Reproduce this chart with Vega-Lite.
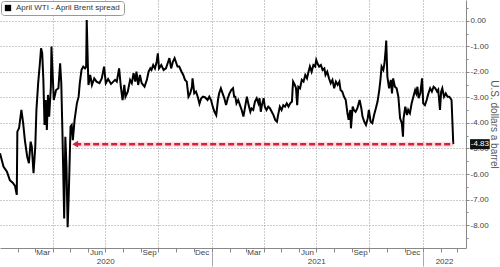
{
  "$schema": "https://vega.github.io/schema/vega-lite/v6.json",
  "width": 466,
  "height": 248,
  "autosize": {"type": "none"},
  "padding": {"left": 0, "top": 0, "right": 34, "bottom": 19},
  "background": "white",
  "config": {"view": {"stroke": null}, "font": "Liberation Sans"},
  "datasets": {
    "spread": [
      {"date":"2020-01-01","value":-5.19},{"date":"2020-01-07","value":-5.71},{"date":"2020-01-13","value":-5.91},{"date":"2020-01-18","value":-6.24},{"date":"2020-01-23","value":-6.34},{"date":"2020-01-27","value":-6.47},{"date":"2020-01-30","value":-6.82},{"date":"2020-01-31","value":-4.34},{"date":"2020-02-03","value":-4.2},{"date":"2020-02-07","value":-3.49},{"date":"2020-02-10","value":-4.0},{"date":"2020-02-13","value":-4.67},{"date":"2020-02-17","value":-5.32},{"date":"2020-02-20","value":-5.58},{"date":"2020-02-23","value":-4.73},{"date":"2020-02-25","value":-4.93},{"date":"2020-02-28","value":-5.97},{"date":"2020-03-02","value":-4.93},{"date":"2020-03-04","value":-3.49},{"date":"2020-03-07","value":-2.44},{"date":"2020-03-10","value":-1.66},{"date":"2020-03-12","value":-1.07},{"date":"2020-03-14","value":-1.26},{"date":"2020-03-16","value":-2.31},{"date":"2020-03-18","value":-4.08},{"date":"2020-03-20","value":-3.1},{"date":"2020-03-22","value":-4.27},{"date":"2020-03-24","value":-2.9},{"date":"2020-03-26","value":-3.75},{"date":"2020-03-29","value":-2.58},{"date":"2020-03-30","value":-1.0},{"date":"2020-04-01","value":-2.05},{"date":"2020-04-03","value":-3.1},{"date":"2020-04-07","value":-2.71},{"date":"2020-04-11","value":-2.64},{"date":"2020-04-14","value":-1.66},{"date":"2020-04-16","value":-2.44},{"date":"2020-04-18","value":-4.4},{"date":"2020-04-21","value":-7.74},{"date":"2020-04-23","value":-4.54},{"date":"2020-04-25","value":-5.71},{"date":"2020-04-27","value":-8.09},{"date":"2020-04-29","value":-6.76},{"date":"2020-05-02","value":-4.14},{"date":"2020-05-04","value":-4.08},{"date":"2020-05-06","value":-4.67},{"date":"2020-05-09","value":-3.88},{"date":"2020-05-13","value":-3.23},{"date":"2020-05-16","value":-2.97},{"date":"2020-05-18","value":-2.44},{"date":"2020-05-21","value":-1.92},{"date":"2020-05-24","value":-1.79},{"date":"2020-05-27","value":-1.86},{"date":"2020-05-29","value":-1.79},{"date":"2020-05-30","value":0.04},{"date":"2020-06-01","value":-1.79},{"date":"2020-06-02","value":-2.51},{"date":"2020-06-05","value":-2.12},{"date":"2020-06-08","value":-2.51},{"date":"2020-06-12","value":-2.25},{"date":"2020-06-16","value":-2.38},{"date":"2020-06-21","value":-2.44},{"date":"2020-06-25","value":-2.25},{"date":"2020-06-29","value":-1.79},{"date":"2020-07-02","value":-2.44},{"date":"2020-07-06","value":-2.28},{"date":"2020-07-11","value":-2.47},{"date":"2020-07-15","value":-2.38},{"date":"2020-07-18","value":-2.31},{"date":"2020-07-21","value":-2.38},{"date":"2020-07-25","value":-1.86},{"date":"2020-07-28","value":-2.58},{"date":"2020-07-31","value":-3.1},{"date":"2020-08-03","value":-2.51},{"date":"2020-08-05","value":-2.97},{"date":"2020-08-09","value":-2.77},{"date":"2020-08-13","value":-2.31},{"date":"2020-08-16","value":-2.44},{"date":"2020-08-19","value":-2.05},{"date":"2020-08-22","value":-2.38},{"date":"2020-08-24","value":-1.99},{"date":"2020-08-27","value":-2.51},{"date":"2020-08-30","value":-2.12},{"date":"2020-09-02","value":-2.44},{"date":"2020-09-07","value":-2.58},{"date":"2020-09-11","value":-2.31},{"date":"2020-09-14","value":-1.99},{"date":"2020-09-17","value":-1.86},{"date":"2020-09-19","value":-1.92},{"date":"2020-09-22","value":-1.73},{"date":"2020-09-25","value":-1.86},{"date":"2020-09-28","value":-1.6},{"date":"2020-09-30","value":-1.27},{"date":"2020-10-02","value":-1.86},{"date":"2020-10-06","value":-1.73},{"date":"2020-10-10","value":-1.92},{"date":"2020-10-14","value":-1.86},{"date":"2020-10-17","value":-1.66},{"date":"2020-10-20","value":-1.46},{"date":"2020-10-23","value":-1.86},{"date":"2020-10-26","value":-1.6},{"date":"2020-10-29","value":-1.46},{"date":"2020-11-01","value":-1.66},{"date":"2020-11-03","value":-1.79},{"date":"2020-11-06","value":-1.79},{"date":"2020-11-10","value":-1.99},{"date":"2020-11-13","value":-2.12},{"date":"2020-11-16","value":-2.31},{"date":"2020-11-19","value":-2.38},{"date":"2020-11-22","value":-2.97},{"date":"2020-11-25","value":-2.84},{"date":"2020-11-28","value":-2.58},{"date":"2020-11-29","value":-2.25},{"date":"2020-12-02","value":-2.84},{"date":"2020-12-05","value":-2.77},{"date":"2020-12-08","value":-2.97},{"date":"2020-12-11","value":-3.25},{"date":"2020-12-14","value":-3.03},{"date":"2020-12-17","value":-2.97},{"date":"2020-12-21","value":-3.0},{"date":"2020-12-25","value":-3.1},{"date":"2020-12-28","value":-2.97},{"date":"2020-12-31","value":-3.1},
      {"date":"2021-01-03","value":-3.36},{"date":"2021-01-06","value":-3.56},{"date":"2021-01-09","value":-3.69},{"date":"2021-01-12","value":-3.1},{"date":"2021-01-14","value":-2.84},{"date":"2021-01-17","value":-2.64},{"date":"2021-01-20","value":-2.84},{"date":"2021-01-23","value":-3.03},{"date":"2021-01-26","value":-3.3},{"date":"2021-01-29","value":-3.03},{"date":"2021-02-01","value":-2.84},{"date":"2021-02-04","value":-2.71},{"date":"2021-02-07","value":-2.64},{"date":"2021-02-09","value":-2.97},{"date":"2021-02-11","value":-2.97},{"date":"2021-02-13","value":-3.23},{"date":"2021-02-16","value":-3.1},{"date":"2021-02-19","value":-3.3},{"date":"2021-02-22","value":-3.49},{"date":"2021-02-25","value":-3.75},{"date":"2021-02-28","value":-3.36},{"date":"2021-03-03","value":-2.97},{"date":"2021-03-06","value":-3.3},{"date":"2021-03-09","value":-3.56},{"date":"2021-03-11","value":-3.43},{"date":"2021-03-14","value":-3.49},{"date":"2021-03-17","value":-3.16},{"date":"2021-03-20","value":-3.03},{"date":"2021-03-23","value":-3.23},{"date":"2021-03-25","value":-3.03},{"date":"2021-03-27","value":-3.56},{"date":"2021-03-29","value":-3.3},{"date":"2021-04-01","value":-3.03},{"date":"2021-04-03","value":-3.36},{"date":"2021-04-06","value":-3.49},{"date":"2021-04-09","value":-3.36},{"date":"2021-04-12","value":-3.43},{"date":"2021-04-15","value":-3.56},{"date":"2021-04-18","value":-3.69},{"date":"2021-04-21","value":-3.88},{"date":"2021-04-24","value":-3.95},{"date":"2021-04-26","value":-3.69},{"date":"2021-04-29","value":-3.36},{"date":"2021-05-02","value":-3.49},{"date":"2021-05-05","value":-3.3},{"date":"2021-05-08","value":-3.36},{"date":"2021-05-11","value":-3.23},{"date":"2021-05-14","value":-3.36},{"date":"2021-05-17","value":-3.23},{"date":"2021-05-20","value":-3.16},{"date":"2021-05-21","value":-2.71},{"date":"2021-05-22","value":-2.38},{"date":"2021-05-25","value":-2.51},{"date":"2021-05-27","value":-2.64},{"date":"2021-05-29","value":-3.3},{"date":"2021-05-31","value":-2.58},{"date":"2021-06-03","value":-2.64},{"date":"2021-06-06","value":-2.31},{"date":"2021-06-09","value":-2.38},{"date":"2021-06-12","value":-2.12},{"date":"2021-06-15","value":-2.25},{"date":"2021-06-17","value":-2.05},{"date":"2021-06-20","value":-1.79},{"date":"2021-06-23","value":-1.99},{"date":"2021-06-26","value":-1.73},{"date":"2021-06-29","value":-1.79},{"date":"2021-07-01","value":-1.53},{"date":"2021-07-03","value":-1.66},{"date":"2021-07-06","value":-1.79},{"date":"2021-07-09","value":-1.73},{"date":"2021-07-12","value":-1.92},{"date":"2021-07-15","value":-1.86},{"date":"2021-07-17","value":-2.12},{"date":"2021-07-20","value":-1.99},{"date":"2021-07-23","value":-2.25},{"date":"2021-07-26","value":-2.44},{"date":"2021-07-29","value":-2.31},{"date":"2021-08-01","value":-2.64},{"date":"2021-08-04","value":-2.38},{"date":"2021-08-07","value":-2.51},{"date":"2021-08-10","value":-2.38},{"date":"2021-08-12","value":-2.71},{"date":"2021-08-15","value":-2.77},{"date":"2021-08-18","value":-2.97},{"date":"2021-08-21","value":-3.1},{"date":"2021-08-24","value":-3.62},{"date":"2021-08-26","value":-3.88},{"date":"2021-08-29","value":-3.49},{"date":"2021-08-30","value":-4.21},{"date":"2021-09-02","value":-3.36},{"date":"2021-09-04","value":-3.49},{"date":"2021-09-07","value":-3.56},{"date":"2021-09-10","value":-3.43},{"date":"2021-09-14","value":-3.1},{"date":"2021-09-17","value":-3.43},{"date":"2021-09-19","value":-3.75},{"date":"2021-09-22","value":-3.95},{"date":"2021-09-25","value":-4.08},{"date":"2021-09-28","value":-3.82},{"date":"2021-09-30","value":-3.49},{"date":"2021-10-03","value":-3.95},{"date":"2021-10-06","value":-4.01},{"date":"2021-10-09","value":-3.69},{"date":"2021-10-12","value":-3.43},{"date":"2021-10-15","value":-3.16},{"date":"2021-10-18","value":-2.71},{"date":"2021-10-20","value":-2.31},{"date":"2021-10-22","value":-1.79},{"date":"2021-10-25","value":-1.92},{"date":"2021-10-27","value":-1.66},{"date":"2021-10-29","value":-1.14},{"date":"2021-10-30","value":-0.77},{"date":"2021-11-01","value":-2.18},{"date":"2021-11-04","value":-2.64},{"date":"2021-11-07","value":-2.31},{"date":"2021-11-09","value":-2.84},{"date":"2021-11-11","value":-2.25},{"date":"2021-11-14","value":-2.58},{"date":"2021-11-17","value":-2.64},{"date":"2021-11-20","value":-2.97},{"date":"2021-11-23","value":-3.82},{"date":"2021-11-26","value":-4.01},{"date":"2021-11-28","value":-4.54},{"date":"2021-11-29","value":-3.82},{"date":"2021-12-02","value":-3.36},{"date":"2021-12-05","value":-3.69},{"date":"2021-12-07","value":-3.49},{"date":"2021-12-10","value":-3.62},{"date":"2021-12-13","value":-3.23},{"date":"2021-12-16","value":-2.97},{"date":"2021-12-19","value":-2.71},{"date":"2021-12-21","value":-2.84},{"date":"2021-12-23","value":-2.58},{"date":"2021-12-25","value":-3.03},{"date":"2021-12-28","value":-2.84},{"date":"2021-12-31","value":-2.25},
      {"date":"2022-01-02","value":-3.23},{"date":"2022-01-05","value":-3.3},{"date":"2022-01-08","value":-3.1},{"date":"2022-01-11","value":-2.84},{"date":"2022-01-14","value":-2.64},{"date":"2022-01-17","value":-2.77},{"date":"2022-01-20","value":-2.58},{"date":"2022-01-23","value":-2.64},{"date":"2022-01-26","value":-2.77},{"date":"2022-01-28","value":-2.7},{"date":"2022-01-31","value":-3.49},{"date":"2022-02-02","value":-2.77},{"date":"2022-02-04","value":-2.64},{"date":"2022-02-07","value":-2.97},{"date":"2022-02-10","value":-2.84},{"date":"2022-02-13","value":-2.97},{"date":"2022-02-16","value":-2.97},{"date":"2022-02-18","value":-3.03},{"date":"2022-02-20","value":-3.1},{"date":"2022-02-23","value":-4.83}
    ],
    "marker": [
      {"start":"2020-05-10","end":"2022-02-23","value":-4.83}
    ],
    "lastlabel": [
      {"boxstart":"2022-03-24","boxend":"2022-04-27","mid":"2022-04-10","value":-4.83,"label":"-4.83"}
    ]
  },
  "layer": [
    {
      "data": {"name": "spread"},
      "mark": {"type": "line", "strokeWidth": 2, "clip": false},
      "encoding": {
        "x": {
          "field": "date", "type": "temporal",
          "scale": {"type": "utc", "domain": [{"year":2020,"month":1,"date":1,"utc":true},{"year":2022,"month":3,"date":17,"utc":true}]},
          "axis": {
            "orient": "bottom", "title": null,
            "values": [
              {"year":2020,"month":2,"date":1,"utc":true},{"year":2020,"month":3,"date":1,"utc":true},{"year":2020,"month":4,"date":1,"utc":true},{"year":2020,"month":5,"date":1,"utc":true},{"year":2020,"month":6,"date":1,"utc":true},{"year":2020,"month":7,"date":1,"utc":true},{"year":2020,"month":8,"date":1,"utc":true},{"year":2020,"month":9,"date":1,"utc":true},{"year":2020,"month":10,"date":1,"utc":true},{"year":2020,"month":11,"date":1,"utc":true},{"year":2020,"month":12,"date":1,"utc":true},
              {"year":2021,"month":1,"date":1,"utc":true},{"year":2021,"month":2,"date":1,"utc":true},{"year":2021,"month":3,"date":1,"utc":true},{"year":2021,"month":4,"date":1,"utc":true},{"year":2021,"month":5,"date":1,"utc":true},{"year":2021,"month":6,"date":1,"utc":true},{"year":2021,"month":7,"date":1,"utc":true},{"year":2021,"month":8,"date":1,"utc":true},{"year":2021,"month":9,"date":1,"utc":true},{"year":2021,"month":10,"date":1,"utc":true},{"year":2021,"month":11,"date":1,"utc":true},{"year":2021,"month":12,"date":1,"utc":true},
              {"year":2022,"month":1,"date":1,"utc":true},{"year":2022,"month":2,"date":1,"utc":true},{"year":2022,"month":3,"date":1,"utc":true}
            ],
            "labelExpr": "indexof([2,5,8,11], utcmonth(datum.value)) >= 0 && utcyear(datum.value) < 2022 ? utcFormat(datum.value, '%b') : ''",
            "labelOffset": 8, "labelOverlap": false, "labelFlush": false, "labelBound": false,
            "labelFontSize": 8, "labelColor": "#444", "labelPadding": -4,
            "tickSize": 4, "tickColor": "#888",
            "domainColor": "#888",
            "grid": true, "gridDash": [1, 2], "gridColor": "#999",
            "gridOpacity": {"condition": {"test": "utcmonth(datum.value) % 3 == 0", "value": 1}, "value": 0}
          }
        },
        "y": {
          "field": "value", "type": "quantitative",
          "scale": {"domain": [-8.9, 0.82], "nice": false, "zero": false},
          "axis": {
            "orient": "right", "title": "U.S. dollars a barrel",
            "values": [-8, -7, -6, -5, -4, -3, -2, -1, 0],
            "format": ".2f",
            "labelExpr": "replace(datum.label, '\u2212', '-')",
            "labelFontSize": 8, "labelColor": "#444", "labelPadding": 1,
            "tickSize": 3, "tickColor": "#888", "domainColor": "#888",
            "grid": true, "gridDash": [1, 2], "gridColor": "#999",
            "titleFontSize": 10, "titleFontWeight": "normal", "titleColor": "#555", "titlePadding": 0
          }
        },
        "color": {
          "datum": "April WTI - April Brent spread",
          "scale": {"range": ["#000000"]},
          "legend": {
            "title": null, "orient": "none", "legendX": 1, "legendY": 1,
            "symbolType": "square", "symbolFillColor": "#000", "symbolStrokeColor": "#000", "symbolSize": 40, "symbolStrokeWidth": 0,
            "labelFontSize": 8, "labelColor": "#333", "labelFont": "Liberation Sans Narrow, Liberation Sans",
            "padding": 3, "strokeColor": "#999", "fillColor": "#fff", "cornerRadius": 3
          }
        }
      }
    },
    {
      "data": {"name": "marker"},
      "mark": {"type": "rule", "color": "#f2a0ac", "strokeWidth": 5, "opacity": 0.35, "clip": false},
      "encoding": {
        "x": {
          "field": "start", "type": "temporal",
          "axis": {
            "orient": "bottom", "title": null, "offset": 4,
            "values": [
              {"year":2020,"month":7,"date":1,"utc":true},
              {"year":2021,"month":1,"date":1,"utc":true},
              {"year":2021,"month":7,"date":1,"utc":true},
              {"year":2022,"month":1,"date":1,"utc":true},
              {"year":2022,"month":2,"date":7,"utc":true}
            ],
            "labelExpr": "utcmonth(datum.value) == 0 && utcdate(datum.value) == 1 ? '' : utcFormat(datum.value, '%Y')",
            "labelOverlap": false, "labelFlush": false, "labelBound": false,
            "labelFontSize": 8, "labelColor": "#444", "labelPadding": -9,
            "tickSize": 14, "tickColor": "#aaa",
            "tickOpacity": {"condition": {"test": "utcmonth(datum.value) == 0 && utcdate(datum.value) == 1", "value": 1}, "value": 0},
            "domain": false, "grid": false
          }
        },
        "x2": {"field": "end"},
        "y": {
          "field": "value", "type": "quantitative",
          "axis": {
            "orient": "right", "title": null, "labels": false, "grid": false, "domain": false,
            "values": [-8.5, -7.5, -6.5, -5.5, -4.5, -3.5, -2.5, -1.5, -0.5, 0.5],
            "tickSize": 2, "tickColor": "#888"
          }
        }
      }
    },
    {
      "data": {"name": "marker"},
      "mark": {"type": "rule", "color": "#d6213b", "strokeWidth": 2.5, "strokeDash": [6, 3], "clip": false},
      "encoding": {
        "x": {"field": "start", "type": "temporal", "axis": null},
        "x2": {"field": "end"},
        "y": {"field": "value", "type": "quantitative", "axis": null}
      }
    },
    {
      "data": {"name": "marker"},
      "mark": {"type": "point", "shape": "triangle-left", "filled": true, "color": "#d6213b", "size": 45, "opacity": 1, "clip": false},
      "encoding": {
        "x": {"field": "start", "type": "temporal", "axis": null},
        "y": {"field": "value", "type": "quantitative", "axis": null}
      }
    },
    {
      "data": {"name": "lastlabel"},
      "mark": {"type": "rule", "color": "#111", "strokeWidth": 10, "clip": false},
      "encoding": {
        "x": {"field": "boxstart", "type": "temporal", "axis": null},
        "x2": {"field": "boxend"},
        "y": {"field": "value", "type": "quantitative", "axis": null}
      }
    },
    {
      "data": {"name": "lastlabel"},
      "mark": {"type": "text", "color": "white", "fontSize": 8, "align": "center", "baseline": "middle", "clip": false},
      "encoding": {
        "x": {"field": "mid", "type": "temporal", "axis": null},
        "y": {"field": "value", "type": "quantitative", "axis": null},
        "text": {"field": "label"}
      }
    }
  ],
  "resolve": {"axis": {"x": "independent", "y": "independent"}}
}
